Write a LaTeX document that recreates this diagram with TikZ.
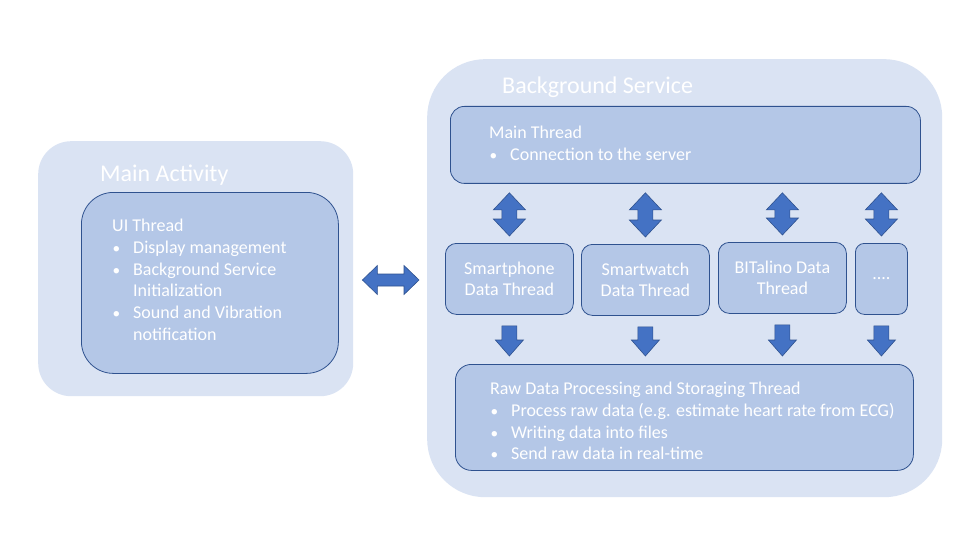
\documentclass[tikz,border=0pt]{standalone}
\usepackage{fontspec}
\setmainfont{Carlito}
\usetikzlibrary{calc}
\definecolor{outerfill}{HTML}{DAE3F3}
\definecolor{innerfill}{HTML}{B4C7E7}
\definecolor{edgeblue}{HTML}{2F528F}
\definecolor{arrowfill}{HTML}{4472C4}
\newcommand{\bul}{\hspace*{0.5pt}\makebox[20.5pt][l]{\scalebox{0.85}{•}}}
\newcommand{\cont}{\hspace*{21pt}}
\newcommand{\vdouble}[2]{\path[blockarrow] let \p1=(#1), \p2=(#2) in
  (\x1,\y1) -- (\x1+16pt,\y1-17pt) -- (\x1+7.5pt,\y1-17pt) -- (\x1+7.5pt,\y2+17pt) -- (\x1+16pt,\y2+17pt) -- (\x1,\y2)
  -- (\x1-16pt,\y2+17pt) -- (\x1-7.5pt,\y2+17pt) -- (\x1-7.5pt,\y1-17pt) -- (\x1-16pt,\y1-17pt) -- cycle;}
\newcommand{\vdown}[2]{\path[blockarrow] let \p1=(#1), \p2=(#2) in
  (\x1-7.5pt,\y1) -- (\x1+7.5pt,\y1) -- (\x1+7.5pt,\y2+16pt) -- (\x1+14pt,\y2+16pt) -- (\x1,\y2)
  -- (\x1-14pt,\y2+16pt) -- (\x1-7.5pt,\y2+16pt) -- cycle;}
\newcommand{\hdouble}[2]{\path[blockarrow] let \p1=(#1), \p2=(#2) in
  (\x1,\y1) -- (\x1+15pt,\y1+14.5pt) -- (\x1+15pt,\y1+6pt) -- (\x2-15pt,\y1+6pt) -- (\x2-15pt,\y1+14.5pt) -- (\x2,\y1)
  -- (\x2-15pt,\y1-14.5pt) -- (\x2-15pt,\y1-6pt) -- (\x1+15pt,\y1-6pt) -- (\x1+15pt,\y1-14.5pt) -- cycle;}
\begin{document}
\begin{tikzpicture}[x=1pt,y=-1pt,
  container/.style={fill=outerfill, draw=none, inner sep=0pt, anchor=north west},
  threadbox/.style={fill=innerfill, draw=edgeblue, line width=0.8pt, inner sep=0pt, anchor=north west,
    text=white, align=center, font=\fontsize{18}{21.5}\selectfont},
  titletext/.style={text=white, anchor=north west, inner sep=0pt, font=\fontsize{24}{28}\selectfont},
  bodytext/.style={text=white, anchor=north west, inner sep=0pt, align=left, font=\fontsize{18}{21.7}\selectfont},
  blockarrow/.style={fill=arrowfill, draw=edgeblue, line width=0.6pt, line join=miter}]
\useasboundingbox[fill=white] (0,0) rectangle (960,540);

% containers
\node[container, minimum width=315pt, minimum height=255pt, rounded corners=33pt] (ma) at (38,141) {};
\node[container, minimum width=515pt, minimum height=438pt, rounded corners=58pt] (bg) at (427,59) {};

% inner boxes
\node[threadbox, minimum width=257pt, minimum height=181pt, rounded corners=32pt] (ui) at (81,192) {};
\node[threadbox, minimum width=470pt, minimum height=77pt, rounded corners=14pt] (mt) at (450,106) {};
\node[threadbox, minimum width=128pt, minimum height=71pt, rounded corners=11pt, text depth=-1pt] (sp) at (445,243) {Smartphone\\Data Thread};
\node[threadbox, minimum width=128pt, minimum height=71pt, rounded corners=11pt, text depth=-1pt] (sw) at (581,244) {Smartwatch\\Data Thread};
\node[threadbox, minimum width=128pt, minimum height=71pt, rounded corners=11pt, text depth=-1pt] (bit) at (718,242) {BITalino Data\\Thread};
\node[threadbox, minimum width=52pt, minimum height=71pt, rounded corners=9pt] (more) at (855,243) {....};
\node[threadbox, minimum width=458pt, minimum height=106pt, rounded corners=16pt] (raw) at (455,364) {};

% titles and texts
\node[titletext] (matitle) at (100,165) {Main Activity};
\node[titletext] (bgtitle) at (502,77) {Background Service};
\node[bodytext] (uitext) at (112,219) {UI Thread\\
  \bul Display management\\
  \bul Background Service\\
  \cont Initialization\\
  \bul Sound and Vibration\\
  \cont notification};
\node[bodytext] (mttext) at (489,126) {Main Thread\\
  \bul Connection to the server};
\node[bodytext] (rawtext) at (490,382) {Raw Data Processing and Storaging Thread\\
  \bul Process raw data (e.g. estimate heart rate from ECG)\\
  \bul Writing data into files\\
  \bul Send raw data in real-time};

% connector coordinates
\coordinate (hmid) at (0,280);
\coordinate (hl) at ($(ma.east |- hmid)+(9,0)$);
\coordinate (hr) at ($(bg.west |- hmid)+(-8,0)$);
\foreach \b/\n in {sp/1, sw/2, bit/3, more/4}{
  \coordinate (dt\n) at ($(\b.north |- mt.south)+(0,9)$);
  \coordinate (db\n) at ($(\b.north)+(0,-7)$);
  \coordinate (ds\n) at ($(\b.south)+(0,11)$);
  \coordinate (de\n) at ($(\b.south |- raw.north)+(0,-8)$);
}

% block arrows
\hdouble{hl}{hr}
\vdouble{dt1}{db1}
\vdouble{dt2}{db2}
\vdouble{dt3}{db3}
\vdouble{dt4}{db4}
\vdown{ds1}{de1}
\vdown{ds2}{de2}
\vdown{ds3}{de3}
\vdown{ds4}{de4}
\end{tikzpicture}
\end{document}
